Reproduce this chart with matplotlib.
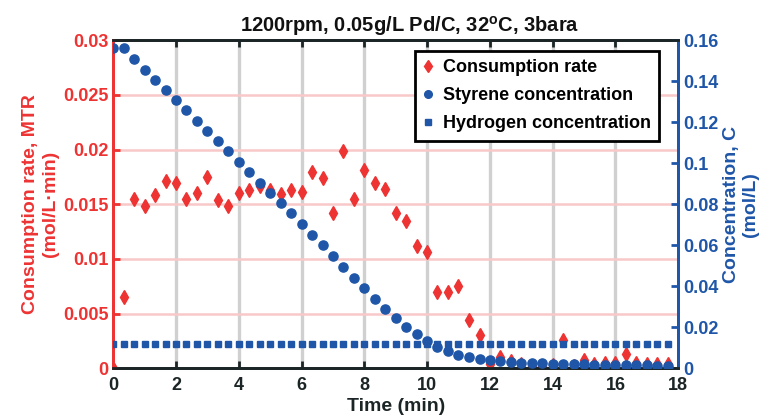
import matplotlib
matplotlib.use("Agg")
import matplotlib.pyplot as plt
from matplotlib.lines import Line2D

plt.rcParams['font.family'] = ['Liberation Sans', 'DejaVu Sans']
plt.rcParams['font.weight'] = 'bold'
plt.rcParams['axes.labelweight'] = 'bold'
plt.rcParams['axes.titleweight'] = 'bold'
plt.rcParams['mathtext.fontset'] = 'custom'
plt.rcParams['mathtext.rm'] = 'Liberation Sans:bold'
plt.rcParams['mathtext.bf'] = 'Liberation Sans:bold'

# sampling every 20 s
time_min = [0, 0.33, 0.67, 1.0, 1.33, 1.67, 2.0, 2.33, 2.67, 3.0, 3.33, 3.67,
            4.0, 4.33, 4.67, 5.0, 5.33, 5.67, 6.0, 6.33, 6.67, 7.0, 7.33, 7.67,
            8.0, 8.33, 8.67, 9.0, 9.33, 9.67, 10.0, 10.33, 10.67, 11.0, 11.33, 11.67,
            12.0, 12.33, 12.67, 13.0, 13.33, 13.67, 14.0, 14.33, 14.67, 15.0, 15.33, 15.67,
            16.0, 16.33, 16.67, 17.0, 17.33, 17.67]

# consumption rate MTR (mol/L.min)
mtr = [0.0, 0.0065, 0.0155, 0.0148, 0.0158, 0.0171, 0.0169, 0.0155, 0.0160, 0.0175,
       0.0154, 0.0148, 0.0160, 0.0163, 0.0167, 0.0163, 0.0159, 0.0163, 0.0161, 0.0179,
       0.0174, 0.0142, 0.0199, 0.0155, 0.0181, 0.0169, 0.0164, 0.0142, 0.0135, 0.0112,
       0.0106, 0.0070, 0.0070, 0.0075, 0.0044, 0.0030, 0.0004, 0.0010, 0.0007, 0.0004,
       0.0002, 0.0002, 0.0003, 0.0026, 0.0002, 0.0008, 0.0004, 0.0005, 0.0005, 0.0013,
       0.0005, 0.0004, 0.0004, 0.0004]

# styrene concentration (mol/L)
styrene = [0.1564, 0.1560, 0.1506, 0.1455, 0.1405, 0.1356, 0.1306, 0.1257, 0.1206, 0.1156,
           0.1106, 0.1057, 0.1008, 0.0955, 0.0904, 0.0854, 0.0804, 0.0755, 0.0701, 0.0650,
           0.0600, 0.0546, 0.0494, 0.0440, 0.0391, 0.0340, 0.0290, 0.0243, 0.0201, 0.0166,
           0.0132, 0.0104, 0.0083, 0.0067, 0.0055, 0.0045, 0.0042, 0.0036, 0.0031, 0.0028,
           0.0026, 0.0024, 0.0023, 0.0021, 0.0020, 0.0020, 0.0018, 0.0018, 0.0016, 0.0015,
           0.0014, 0.0014, 0.0013, 0.0013]

# hydrogen concentration (mol/L), saturated
hydrogen = [0.012] * 54

x_ticks = [0, 2, 4, 6, 8, 10, 12, 14, 16, 18]
left_ticks = [0, 0.005, 0.01, 0.015, 0.02, 0.025, 0.03]
left_labels = ['0', '0.005', '0.01', '0.015', '0.02', '0.025', '0.03']
right_ticks = [0, 0.02, 0.04, 0.06, 0.08, 0.1, 0.12, 0.14, 0.16]
right_labels = ['0', '0.02', '0.04', '0.06', '0.08', '0.1', '0.12', '0.14', '0.16']

red = '#ee3333'
blue = '#1f56a8'
dark = '#1c2526'

fig = plt.figure(figsize=(7.68, 4.18), dpi=100)
ax = fig.add_axes([0.1475, 0.119, 0.7355, 0.785])
ax2 = ax.twinx()

ax.plot(time_min, mtr, 'd', color=red, ms=7.5, mec=red, zorder=3)
ax2.plot(time_min, styrene, 'o', color=blue, ms=6.6, mec=blue, zorder=3)
ax2.plot(time_min, hydrogen, 's', color=blue, ms=4.4, mec=blue, zorder=3)

ax.set_xlim(0, 18)
ax.set_ylim(0, 0.03)
ax2.set_ylim(0, 0.16)
ax.set_xticks(x_ticks)
ax.set_yticks(left_ticks)
ax.set_yticklabels(left_labels)
ax2.set_yticks(right_ticks)
ax2.set_yticklabels(right_labels)

# grid: grey verticals, pink horizontals
for xv in x_ticks[1:-1]:
    ax.axvline(xv, color='#d0d0d0', lw=2.4, zorder=0)
for yv in left_ticks[1:-1]:
    ax.axhline(yv, color='#f9c8c8', lw=1.8, zorder=0)

ax.tick_params(axis='x', direction='in', top=True, length=5, width=2, colors=dark,
               labelsize=13, pad=6.5)
ax.tick_params(axis='y', direction='in', length=5, width=2, colors=red, labelsize=13)
ax2.tick_params(axis='y', direction='in', length=5, width=2, colors=blue, labelsize=13)

for a in (ax, ax2):
    for s in a.spines.values():
        s.set_linewidth(2)
    a.spines['top'].set_color(dark)
    a.spines['bottom'].set_color(dark)
    a.spines['left'].set_color(red)
    a.spines['right'].set_color(blue)

ax.set_xlabel('Time (min)', fontsize=14, color=dark, labelpad=3)
ax.set_ylabel('Consumption rate, MTR\n(mol/L·min)', fontsize=14, color=red, labelpad=3)
ax2.set_ylabel('Concentration, C\n(mol/L)', fontsize=14, color=blue, labelpad=3)
ax.set_title(r'1200rpm, 0.05g/L Pd/C, 32$^{\mathbf{o}}$C, 3bara', fontsize=14.5,
             color='#111111', pad=6, x=0.525)

handles = [Line2D([], [], ls='none', marker='d', color=red, ms=6.5),
           Line2D([], [], ls='none', marker='o', color=blue, ms=5.5),
           Line2D([], [], ls='none', marker='s', color=blue, ms=4.5)]
leg = ax2.legend(handles, ['Consumption rate', 'Styrene concentration', 'Hydrogen concentration'],
                 loc='upper right', bbox_to_anchor=(0.966, 0.967), borderaxespad=0,
                 fontsize=13, frameon=True, fancybox=False, framealpha=1,
                 edgecolor='black', handlelength=0.6, handletextpad=0.5,
                 labelspacing=0.62, borderpad=0.45)
leg.get_frame().set_linewidth(2)

fig.savefig('out.png', dpi=100)
